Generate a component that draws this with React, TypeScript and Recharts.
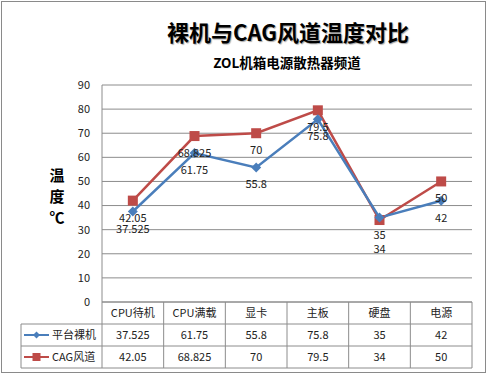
import { LineChart, Line, XAxis, YAxis, CartesianGrid, LabelList } from "recharts"

const categories = ["CPU待机", "CPU满载", "显卡", "主板", "硬盘", "电源"]
const bareValues = [37.525, 61.75, 55.8, 75.8, 35, 42]
const cagValues = [42.05, 68.825, 70, 79.5, 34, 50]
const yTicks = [0, 10, 20, 30, 40, 50, 60, 70, 80, 90]

const BLUE = "#4A7EBB"
const RED = "#BE4B48"
const GRID = "#8c8c8c"
const FONT = '"Noto Sans CJK SC", "DejaVu Sans", sans-serif'

const data = categories.map((name, i) => ({ name, bare: bareValues[i], cag: cagValues[i] }))

const PLOT_L = 102
const PLOT_R = 472
const PLOT_B = 302
const ROW_H = 22
const LEG_L = 21
const colW = (PLOT_R - PLOT_L) / categories.length

function Diamond(props: any) {
  const { cx, cy } = props
  if (cx == null || cy == null) return null
  return <path d={`M${cx},${cy - 5}L${cx + 5},${cy}L${cx},${cy + 5}L${cx - 5},${cy}Z`} fill={BLUE} />
}

function Square(props: any) {
  const { cx, cy } = props
  if (cx == null || cy == null) return null
  return <rect x={cx - 5} y={cy - 5} width={10} height={10} fill={RED} />
}

function makeLabel(series: "bare" | "cag") {
  return (props: any) => {
    const { x, y, value, index } = props
    let dy = 21
    // push the lower label down when both points nearly overlap
    if (series === "cag" && cagValues[index] < bareValues[index] && bareValues[index] - cagValues[index] < 3) dy = 33
    return (
      <text x={x} y={y + dy} textAnchor="middle" fontSize={11} fill="#222" fontFamily={FONT}>
        {value}
      </text>
    )
  }
}

function DataTable() {
  const rows = [
    { label: "平台裸机", values: bareValues, kind: "bare" },
    { label: "CAG风道", values: cagValues, kind: "cag" },
  ]
  const top = PLOT_B
  return (
    <svg width={487} height={375} style={{ position: "absolute", left: 0, top: 0, pointerEvents: "none" }}>
      {/* header row */}
      <line x1={PLOT_L} y1={top} x2={PLOT_R} y2={top} stroke={GRID} />
      <line x1={PLOT_R} y1={top} x2={PLOT_R} y2={top + ROW_H * 3} stroke={GRID} />
      {categories.map((c, i) => (
        <g key={c}>
          <line x1={PLOT_L + i * colW} y1={top} x2={PLOT_L + i * colW} y2={top + ROW_H * 3} stroke={GRID} />
          <text x={PLOT_L + (i + 0.5) * colW} y={top + 15} textAnchor="middle" fontSize={11} fill="#222" fontFamily={FONT}>
            {c}
          </text>
        </g>
      ))}
      {rows.map((r, ri) => {
        const y0 = top + ROW_H * (ri + 1)
        const cy = y0 + ROW_H / 2
        return (
          <g key={r.label}>
            <line x1={LEG_L} y1={y0} x2={PLOT_R} y2={y0} stroke={GRID} />
            <line x1={LEG_L} y1={y0} x2={LEG_L} y2={y0 + ROW_H} stroke={GRID} />
            <line x1={24} y1={cy} x2={49} y2={cy} stroke={r.kind === "bare" ? BLUE : RED} strokeWidth={2} />
            {r.kind === "bare" ? (
              <path d={`M36.5,${cy - 3.5}L40,${cy}L36.5,${cy + 3.5}L33,${cy}Z`} fill={BLUE} />
            ) : (
              <rect x={32.5} y={cy - 4} width={8} height={8} fill={RED} />
            )}
            <text x={52} y={cy + 4} fontSize={11} fill="#222" fontFamily={FONT}>
              {r.label}
            </text>
            {r.values.map((v, i) => (
              <text key={i} x={PLOT_L + (i + 0.5) * colW} y={cy + 4} textAnchor="middle" fontSize={11} fill="#222" fontFamily={FONT}>
                {v}
              </text>
            ))}
          </g>
        )
      })}
      <line x1={LEG_L} y1={top + ROW_H * 3} x2={PLOT_R} y2={top + ROW_H * 3} stroke={GRID} />
    </svg>
  )
}

export default function App() {
  return (
    <div style={{ position: "absolute", left: 0, top: 0, width: 487, height: 375, background: "#fff", fontFamily: FONT }}>
      <div style={{ position: "absolute", left: 1, top: 1, width: 483, height: 370, border: "1px solid #8a8a8a" }} />
      <div
        style={{
          position: "absolute",
          left: 0,
          width: 576,
          top: 16,
          textAlign: "center",
          fontSize: 22,
          fontWeight: "bold",
          color: "#000",
          textShadow: "1px 1px 1px rgba(0,0,0,0.35)",
          lineHeight: "30px",
        }}
      >
        裸机与CAG风道温度对比
      </div>
      <div
        style={{
          position: "absolute",
          left: 0,
          width: 574,
          top: 52,
          textAlign: "center",
          fontSize: 13.5,
          fontWeight: "bold",
          color: "#000",
          lineHeight: "20px",
        }}
      >
        ZOL机箱电源散热器频道
      </div>
      <div
        style={{
          position: "absolute",
          left: 46,
          top: 164,
          width: 22,
          textAlign: "center",
          fontSize: 15,
          fontWeight: "bold",
          lineHeight: "21px",
          color: "#000",
        }}
      >
        温<br />度<br />℃
      </div>
      <LineChart width={487} height={375} data={data} margin={{ top: 85, right: 15, bottom: 73, left: 62 }} style={{ position: "absolute", left: 0, top: 0 }}>
        <CartesianGrid vertical={false} stroke={GRID} strokeWidth={1} />
        <XAxis dataKey="name" hide padding={{ left: colW / 2, right: colW / 2 }} />
        <YAxis
          width={40}
          domain={[0, 90]}
          ticks={yTicks}
          interval={0}
          tickLine={false}
          axisLine={{ stroke: GRID }}
          tickMargin={6}
          tick={{ fontSize: 11, fill: "#222", fontFamily: FONT }}
        />
        <Line dataKey="cag" stroke={RED} strokeWidth={2.5} dot={<Square />} isAnimationActive={false}>
          <LabelList dataKey="cag" content={makeLabel("cag")} />
        </Line>
        <Line dataKey="bare" stroke={BLUE} strokeWidth={2.5} dot={<Diamond />} isAnimationActive={false}>
          <LabelList dataKey="bare" content={makeLabel("bare")} />
        </Line>
      </LineChart>
      <DataTable />
    </div>
  )
}
